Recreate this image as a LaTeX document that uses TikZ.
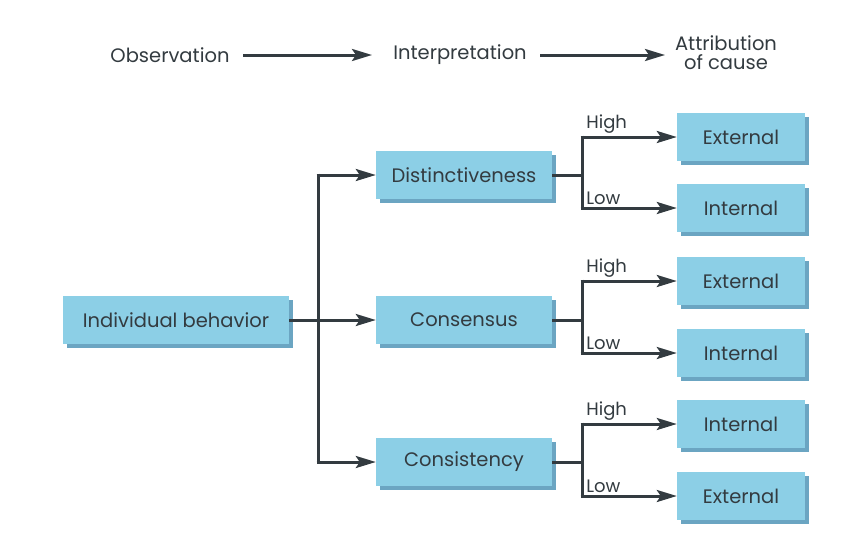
\documentclass[tikz,border=0pt]{standalone}
\usepackage{fontspec}
\setmainfont{Poppins}
\usetikzlibrary{arrows.meta,shadows}
\definecolor{boxfill}{HTML}{8CCFE6}
\definecolor{boxshade}{HTML}{6BA5C2}
\definecolor{ink}{HTML}{333B40}
\begin{document}
\begin{tikzpicture}[x=1pt,y=-1pt,
  box/.style={fill=boxfill, draw=none, minimum height=48pt, text=ink,
    font=\fontsize{19.5}{22}\selectfont,
    copy shadow={shadow xshift=4pt, shadow yshift=-4pt, fill=boxshade, draw=none}},
  midbox/.style={box, minimum width=176pt},
  endbox/.style={box, minimum width=128pt},
  head/.style={text=ink, font=\fontsize{19.5}{22}\selectfont, align=center},
  lab/.style={text=ink, font=\fontsize{18}{20}\selectfont, anchor=south west, inner sep=1pt},
  conn/.style={draw=ink, line width=3pt, -{Stealth[length=20pt,width=12pt,inset=4pt]}},
  plain/.style={draw=ink, line width=3pt}
]
\useasboundingbox[fill=white] (0,0) rectangle (848,536);

% column headings
\node[head] (obs) at (170,55) {Observation};
\node[head] (int) at (460,55) {Interpretation};
\node[head] (att) at (726,53) {Attribution\\[-3pt]of cause};
\draw[conn] (243,55) coordinate (o1) -- (372,55) coordinate (o2);
\draw[conn] (540,55) coordinate (i1) -- (665,55) coordinate (i2);

% boxes
\node[box, minimum width=226pt] (ib) at (176,320) {Individual behavior};
\node[midbox] (dis) at (464,175) {Distinctiveness};
\node[midbox] (con) at (464,320) {Consensus};
\node[midbox] (cst) at (464,462) {Consistency};

\node[endbox] (d1) at (741,137) {External};
\node[endbox] (d2) at (741,208) {Internal};
\node[endbox] (c1) at (741,281) {External};
\node[endbox] (c2) at (741,353) {Internal};
\node[endbox] (s1) at (741,424) {Internal};
\node[endbox] (s2) at (741,496) {External};

% trunk from individual behavior (shifts are in page units, +y is up)
\coordinate (trunk) at (318,320);
\draw[plain] ([yshift=1.5pt]trunk |- dis) -- ([yshift=-1.5pt]trunk |- cst);
\draw[conn] (ib.east) -- (con.west);
\draw[conn] ([xshift=-1.5pt]trunk |- dis) -- (dis.west);
\draw[conn] ([xshift=-1.5pt]trunk |- cst) -- (cst.west);

% high / low branches
\foreach \src/\hi/\lo in {dis/d1/d2, con/c1/c2, cst/s1/s2}{
  \coordinate (\src-j) at ([xshift=30pt]\src.east);
  \draw[plain] (\src.east) -- (\src-j);
  \draw[plain] ([yshift=1.5pt]\src-j |- \hi) -- ([yshift=-1.5pt]\src-j |- \lo);
  \draw[conn] ([xshift=-1.5pt]\src-j |- \hi) -- (\hi.west);
  \draw[conn] ([xshift=-1.5pt]\src-j |- \lo) -- (\lo.west);
  \node[lab] (\src-h) at ([xshift=3pt,yshift=2pt]\src-j |- \hi) {High};
  \node[lab] (\src-l) at ([xshift=3pt,yshift=2pt]\src-j |- \lo) {Low};
}
\end{tikzpicture}
\end{document}
